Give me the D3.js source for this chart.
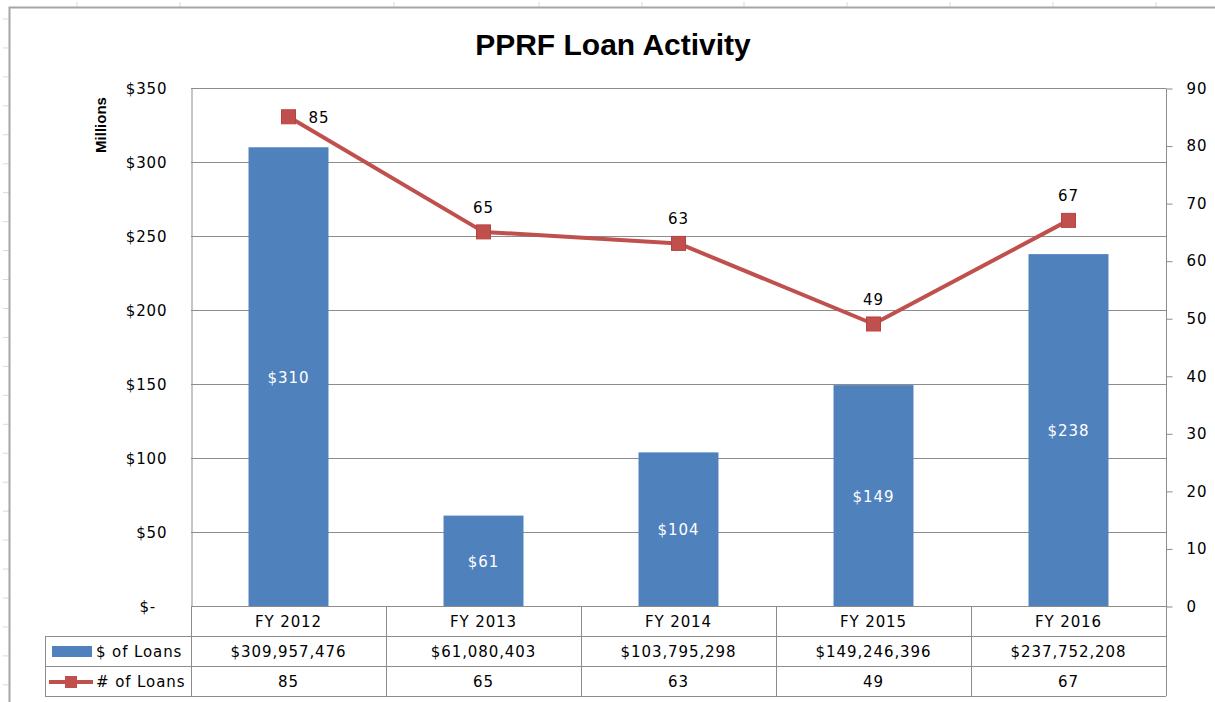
<!DOCTYPE html>
<html>
<head>
<meta charset="utf-8">
<script src="https://cdn.jsdelivr.net/npm/d3@7"></script>
<style>
  body { margin: 0; background: #fff; }
  text { font-family: "DejaVu Sans", Verdana, sans-serif; }
</style>
</head>
<body>
<div id="container"></div>
<script>
/* DATA */
const categories = ["FY 2012", "FY 2013", "FY 2014", "FY 2015", "FY 2016"]
const loanDollars = [309957476, 61080403, 103795298, 149246396, 237752208]
const loanCounts = [85, 65, 63, 49, 67]
const dollarTicks = [0, 50, 100, 150, 200, 250, 300, 350]   // millions
const countTicks = [0, 10, 20, 30, 40, 50, 60, 70, 80, 90]
const seriesNames = ["$ of Loans", "# of Loans"]

/* CONSTANTS */
const width = 1215, height = 702
const margin = { top: 88, bottom: 96, left: 191, right: 49 }
const barColor = "#4F81BD", lineColor = "#C0504D"
const gridColor = "#8C8C8C"
const fontSize = "15px", letterSp = "0.9px"

const svg = d3.select("#container")
  .append("svg")
  .attr("width", width)
  .attr("height", height)

// spreadsheet backdrop: faint column/row marks and chart frame
const colMarks = [77, 180, 394, 539, 642, 744, 847, 950, 1053, 1156]
svg.append("g").selectAll("line")
  .data(colMarks)
  .join("line")
  .attr("x1", d => d).attr("x2", d => d)
  .attr("y1", 2).attr("y2", 7)
  .attr("stroke", "#d9d9d9")
svg.append("g").selectAll("line")
  .data(d3.range(19, height, 28.95))
  .join("line")
  .attr("x1", 3).attr("x2", 9)
  .attr("y1", d => d).attr("y2", d => d)
  .attr("stroke", "#d9d9d9")
svg.append("path")
  .attr("d", `M9.5,${height + 5}V7.5H${width + 5}`)
  .attr("fill", "none")
  .attr("stroke", "#a6a6a6")
  .attr("stroke-width", 2)

// SCALES
const plotBottom = height - margin.bottom
const xScale = d3.scaleBand()
  .domain(categories)
  .range([margin.left, width - margin.right])
  .paddingInner(0.59)
  .paddingOuter(0.295)

const yLeft = d3.scaleLinear()
  .domain([0, 350])
  .range([plotBottom, margin.top])

const yRight = d3.scaleLinear()
  .domain([0, 90])
  .range([plotBottom, margin.top])

const cx = c => xScale(c) + xScale.bandwidth() / 2

// GRIDLINES
svg.append("g")
  .selectAll("line")
  .data(dollarTicks)
  .join("line")
  .attr("x1", margin.left).attr("x2", width - margin.right)
  .attr("y1", d => Math.round(yLeft(d)) + 0.5)
  .attr("y2", d => Math.round(yLeft(d)) + 0.5)
  .attr("stroke", gridColor)

// AXES
const leftAxis = d3.axisLeft(yLeft)
  .tickValues(dollarTicks)
  .tickSize(0)
  .tickPadding(24)
  .tickFormat(d => d === 0 ? "$-  " : "$" + d)
const leftG = svg.append("g")
  .attr("transform", `translate(${margin.left + 0.5}, 0.5)`)
  .call(leftAxis)
leftG.select(".domain").attr("stroke", gridColor)
leftG.selectAll("text")
  .style("font-size", fontSize)
  .style("letter-spacing", letterSp)
  .style("white-space", "pre")
  .attr("fill", "#000")

const rightAxis = d3.axisRight(yRight)
  .tickValues(countTicks)
  .tickSize(6)
  .tickPadding(14)
const rightG = svg.append("g")
  .attr("transform", `translate(${width - margin.right + 0.5}, 0.5)`)
  .call(rightAxis)
rightG.select(".domain").attr("stroke", gridColor).attr("d", `M0,${margin.top}V${plotBottom}`)
rightG.selectAll(".tick line").attr("stroke", gridColor)
rightG.selectAll("text")
  .style("font-size", fontSize)
  .style("letter-spacing", letterSp)
  .attr("fill", "#000")

// Millions label
svg.append("text")
  .attr("transform", `translate(106, 125) rotate(-90)`)
  .attr("text-anchor", "middle")
  .style("font-family", "'Liberation Sans', Arial, sans-serif")
  .style("font-weight", "bold")
  .style("font-size", "15px")
  .text("Millions")

// BARS
svg.append("g")
  .selectAll("rect")
  .data(categories)
  .join("rect")
  .attr("x", d => xScale(d))
  .attr("y", (d, i) => yLeft(loanDollars[i] / 1e6))
  .attr("width", xScale.bandwidth())
  .attr("height", (d, i) => plotBottom - yLeft(loanDollars[i] / 1e6))
  .attr("fill", barColor)

svg.append("g")
  .selectAll("text")
  .data(categories)
  .join("text")
  .attr("x", d => cx(d))
  .attr("y", (d, i) => (yLeft(loanDollars[i] / 1e6) + plotBottom) / 2 + 6)
  .attr("text-anchor", "middle")
  .attr("fill", "#fff")
  .style("font-size", fontSize)
  .style("letter-spacing", letterSp)
  .text((d, i) => "$" + Math.round(loanDollars[i] / 1e6))

// LINE
const lineGen = d3.line()
  .x((d, i) => cx(categories[i]))
  .y(d => yRight(d))

svg.append("path")
  .datum(loanCounts)
  .attr("d", lineGen)
  .attr("fill", "none")
  .attr("stroke", lineColor)
  .attr("stroke-width", 4)
  .attr("stroke-linejoin", "round")

svg.append("g")
  .selectAll("rect")
  .data(loanCounts)
  .join("rect")
  .attr("x", (d, i) => cx(categories[i]) - 7)
  .attr("y", d => yRight(d) - 7)
  .attr("width", 14)
  .attr("height", 14)
  .attr("fill", lineColor)
  .attr("stroke", "#b8423f")

// line labels: above the point, or to the right if too close to top
const nearTop = d => yRight(d) - 22 < margin.top + 10
svg.append("g")
  .selectAll("text")
  .data(loanCounts)
  .join("text")
  .attr("x", (d, i) => nearTop(d) ? cx(categories[i]) + 20 : cx(categories[i]))
  .attr("y", d => nearTop(d) ? yRight(d) + 6 : yRight(d) - 19)
  .attr("text-anchor", d => nearTop(d) ? "start" : "middle")
  .attr("fill", "#000")
  .style("font-size", fontSize)
  .style("letter-spacing", letterSp)
  .text(d => d)

// TITLE
svg.append("text")
  .attr("x", 613)
  .attr("y", 55)
  .attr("text-anchor", "middle")
  .style("font-family", "'Liberation Sans', Arial, sans-serif")
  .style("font-weight", "bold")
  .style("font-size", "30px")
  .attr("fill", "#000")
  .text("PPRF Loan Activity")

// DATA TABLE
const rowH = 30
const tableLeft = 45
const tableRight = width - margin.right
const table = svg.append("g").attr("stroke", gridColor).attr("fill", "none")

// horizontal rules
;[1, 2, 3].forEach(r => {
  table.append("line")
    .attr("x1", tableLeft).attr("x2", tableRight)
    .attr("y1", plotBottom + r * rowH + 0.5).attr("y2", plotBottom + r * rowH + 0.5)
})
// vertical rules at category boundaries
const bounds = categories.map(c => xScale(c) - xScale.step() * xScale.paddingInner() / 2)
bounds[0] = margin.left
bounds.push(tableRight)
table.selectAll(".v")
  .data(bounds)
  .join("line")
  .attr("x1", d => Math.round(d) + 0.5).attr("x2", d => Math.round(d) + 0.5)
  .attr("y1", plotBottom).attr("y2", plotBottom + 3 * rowH)
table.append("line")
  .attr("x1", tableLeft + 0.5).attr("x2", tableLeft + 0.5)
  .attr("y1", plotBottom + rowH).attr("y2", plotBottom + 3 * rowH)

const cellText = (vals, row) => svg.append("g")
  .selectAll("text")
  .data(vals)
  .join("text")
  .attr("x", (d, i) => cx(categories[i]))
  .attr("y", plotBottom + row * rowH + 21)
  .attr("text-anchor", "middle")
  .attr("fill", "#000")
  .style("font-size", fontSize)
  .style("letter-spacing", letterSp)
  .text(d => d)

cellText(categories, 0)
cellText(loanDollars.map(d => "$" + d3.format(",")(d)), 1)
cellText(loanCounts, 2)

// row headers with legend keys
svg.append("rect")
  .attr("x", 52).attr("y", plotBottom + rowH + 10)
  .attr("width", 40).attr("height", 11)
  .attr("fill", barColor)
svg.append("line")
  .attr("x1", 49).attr("x2", 93)
  .attr("y1", plotBottom + 2 * rowH + 16).attr("y2", plotBottom + 2 * rowH + 16)
  .attr("stroke", lineColor).attr("stroke-width", 4)
svg.append("rect")
  .attr("x", 65).attr("y", plotBottom + 2 * rowH + 10)
  .attr("width", 12).attr("height", 12)
  .attr("fill", lineColor)

svg.append("g")
  .selectAll("text")
  .data(seriesNames)
  .join("text")
  .attr("x", 96)
  .attr("y", (d, i) => plotBottom + (i + 1) * rowH + 21)
  .attr("fill", "#000")
  .style("font-size", fontSize)
  .style("letter-spacing", letterSp)
  .text(d => d)
</script>
</body>
</html>
